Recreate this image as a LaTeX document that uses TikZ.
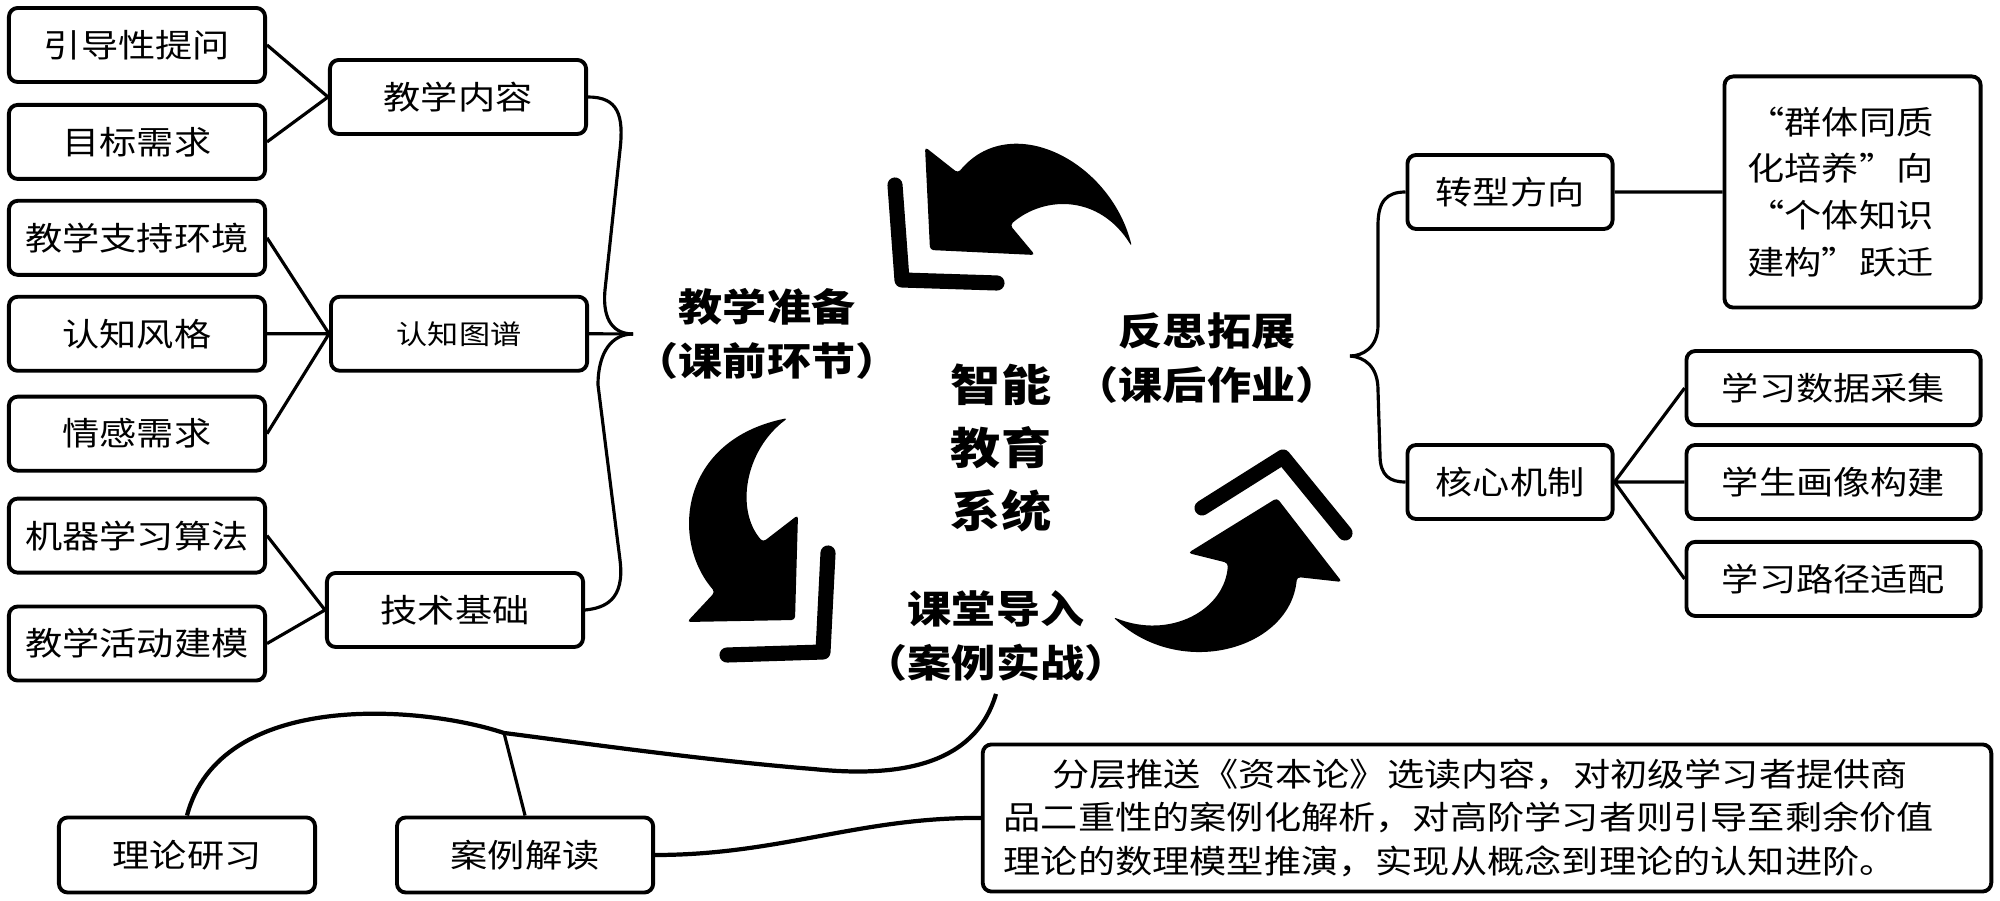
\documentclass[tikz,border=0pt]{standalone}
\usepackage{fontspec}
\setmainfont{Noto Sans CJK SC}[FakeStretch=1.15]
\newfontfamily\quotefont{Noto Sans CJK SC}[FakeStretch=1.15,RawFeature=+fwid]
\usetikzlibrary{positioning}
\tikzset{box node/.style={draw,rounded corners=2.5pt,line width=1.1pt,minimum height=0.74cm,inner sep=0pt,font=\fontsize{9.2}{11}\selectfont},
leaf node/.style={box node,minimum width=2.56cm},
short node/.style={box node,minimum width=2.05cm},
wide node/.style={box node,minimum width=2.94cm},
stage text/.style={align=center,font=\fontsize{10.9}{15.4}\selectfont\bfseries},
link/.style={line width=0.9pt},
thick link/.style={line width=1.2pt},
big arrow/.style={fill=black,rounded corners=1pt},
chevron/.style={line width=4.3pt,line cap=round,line join=round},
}

\begin{document}
\begin{tikzpicture}[x=0.01cm,y=-0.01cm]
	\useasboundingbox (0,0) rectangle (2000,901);
	% left column
	\node[leaf node] (ydx) at (137,45) {引导性提问};
	\node[leaf node] (mbxq) [below=1.9mm of ydx] {目标需求};
	\node[leaf node] (jxzc) [below=1.8mm of mbxq] {教学支持环境};
	\node[leaf node] (rzfg) [below=1.8mm of jxzc] {认知风格};
	\node[leaf node] (qgxq) [below=2.2mm of rzfg] {情感需求};
	\node[leaf node] (jqxx) [below=2.4mm of qgxq] {机器学习算法};
	\node[leaf node] (jxhd) [below=3.0mm of jqxx] {教学活动建模};
	
	\node[leaf node] (jxnr) at (458,97) {教学内容};
	\node[leaf node,font=\fontsize{7.7}{9}\selectfont] (rztp) [right=6.2mm of rzfg] {认知图谱};
	\node[leaf node] (jsjc) at (455,610) {技术基础};
	
	\path[draw,link]
	(ydx.east) -- (jxnr.west)
	(mbxq.east) -- (jxnr.west)
	(jxzc.east) -- (rztp.west)
	(rzfg.east) -- (rztp.west)
	(qgxq.east) -- (rztp.west)
	(jqxx.east) -- (jsjc.west)
	(jxhd.east) -- (jsjc.west);
	
	% left brace
	\coordinate (brL) at (633,334);
	\draw[link] (jxnr.east) .. controls (618,97) and (624,115) .. (620,150) -- (605,290) .. controls (602,322) and (615,334) .. (brL);
	\draw[link] (rztp.east) -- (brL);
	\draw[link] (brL) .. controls (612,334) and (598,352) .. (598,385) -- (620,560) .. controls (625,600) and (605,608) .. (jsjc.east);
	
	% centre
	\node[stage text] (jxzb) at (767,334) {教学准备\\（课前环节）};
	\node[stage text] (fsto) at (1207,358) {反思拓展\\（课后作业）};
	\node[stage text] (ktdr) at (996,636) {课堂导入\\（案例实战）};
	\node[align=center,font=\fontsize{12.4}{17.9}\selectfont\bfseries] (znjy) at (1001,448) {智能\\教育\\系统};
	
	\fill[big arrow] (925,147) -- (930,250) -- (1035,255) -- (1010,225) .. controls (1045,195) and (1100,195) .. (1132,247) .. controls (1110,160) and (1010,110) .. (958,173) -- cycle;
	\draw[chevron] (895,185) -- (902,280) -- (997,283);
	\fill[big arrow] (798,515) -- (795,620) -- (687,622) -- (715,592) .. controls (670,540) and (680,440) .. (788,418) .. controls (745,450) and (735,510) .. (763,542) -- cycle;
	\draw[chevron] (828,553) -- (823,652) -- (727,655);
	\fill[big arrow] (1188,553) -- (1277,498) -- (1342,582) -- (1297,577) .. controls (1290,650) and (1180,680) .. (1113,617) .. controls (1170,640) and (1225,610) .. (1228,563) -- cycle;
	\draw[chevron] (1202,508) -- (1283,457) -- (1345,533);
	
	% right side
	\node[short node] (zxfx) at (1510,192) {转型方向};
	\node[box node,minimum width=2.56cm,minimum height=2.31cm,align=left,text width=2.1cm,font=\quotefont\fontsize{9.2}{13.3}\selectfont] (qzjg) [right=1.08cm of zxfx] {“群体同质\\化培养”向\\“个体知识\\建构”跃迁};
	\node[short node] (hxjz) at (1510,482) {核心机制};
	\node[wide node] (xshx) [right=7mm of hxjz] {学生画像构建};
	\node[wide node] (xxsj) [above=1.6mm of xshx] {学习数据采集};
	\node[wide node] (xxlj) [below=1.9mm of xshx] {学习路径适配};
	
	\path[draw,link]
	(zxfx.east) -- (qzjg.west)
	(hxjz.east) -- (xxsj.west)
	(hxjz.east) -- (xshx.west)
	(hxjz.east) -- (xxlj.west);
	
	% right brace
	\coordinate (brR) at (1350,356);
	\draw[link] (zxfx.west) .. controls (1386,192) and (1378,202) .. (1378,225) -- (1378,325) .. controls (1378,348) and (1362,356) .. (brR);
	\draw[link] (brR) .. controls (1364,357) and (1378,366) .. (1378,390) -- (1380,455) .. controls (1380,476) and (1390,482) .. (hxjz.west);
	
	% bottom
	\node[leaf node,minimum height=0.75cm] (llyx) at (187,855) {理论研习};
	\node[leaf node,minimum height=0.75cm] (alja) [right=7.8mm of llyx] {案例解读};
	\node[box node,minimum width=10.08cm,minimum height=1.47cm,align=left,text width=9.66cm,font=\fontsize{9.2}{12.5}\selectfont] (tsnr) at (1487,818) {\hspace*{1.5em}分层推送《资本论》选读内容，对初级学习者提供商\\品二重性的案例化解析，对高阶学习者则引导至剩余价值\\理论的数理模型推演，实现从概念到理论的认知进阶。};
	
	\coordinate (jn) at (504,733);
	\draw[thick link] (ktdr.south) .. controls (975,765) and (900,778) .. (813,769) .. controls (700,760) and (560,740) .. (jn) .. controls (420,705) and (220,690) .. (llyx.north);
	\draw[link] (jn) -- (alja.north);
	\draw[thick link] (alja.east) .. controls (780,855) and (860,817) .. (tsnr.west);
\end{tikzpicture}
\end{document}
